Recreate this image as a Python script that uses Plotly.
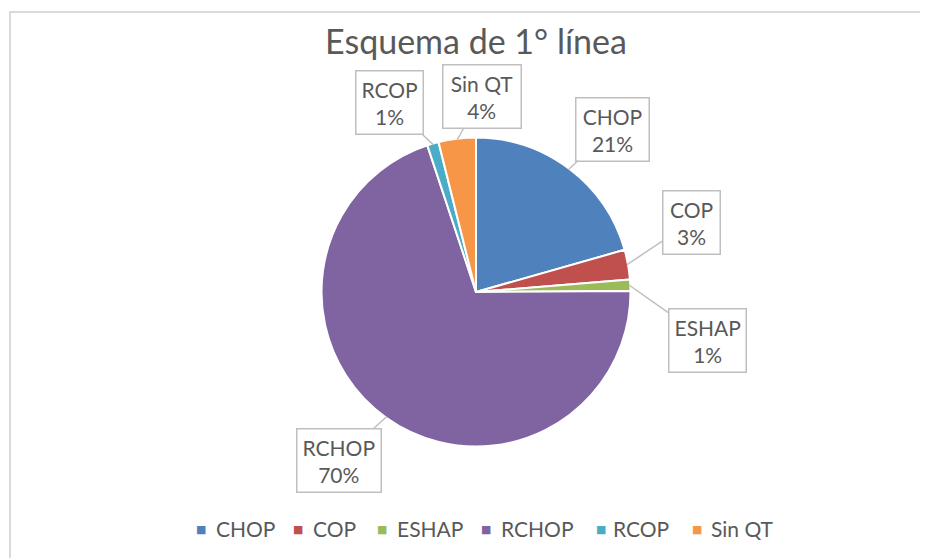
import math
import plotly.graph_objects as go

# ---- data ----
categories = ["CHOP", "COP", "ESHAP", "RCHOP", "RCOP", "Sin QT"]
values = [20.6, 3.1, 1.2, 70.0, 1.2, 3.9]
colors = ["#4F81BD", "#C0504D", "#9BBB59", "#8064A2", "#4BACC6", "#F79646"]
title_text = "Esquema de 1° línea"

# ---- layout (page pixels) ----
label_box_px = [(612, 129), (691, 222), (707, 340), (339, 460), (389, 103), (482, 96)]
label_box_w = [62, 46, None, None, None, 67]
legend_marker_px = [201, 298, 382, 486, 601, 697]
legend_text_px = [214, 311, 395, 499, 611, 709]
LEGEND_Y = 528

OFF = 8                      # browser body margin
W, H = 928 - OFF, 558 - OFF  # figure size
CX, CY, R = 476, 292, 154.5  # pie centre/radius in page pixels
FONT = "Lato"
TXT = "#595959"


def px2x(px):
    return (px - OFF) / W


def py2y(py):
    return 1 - (py - OFF) / H


fig = go.Figure()
fig.add_trace(go.Pie(
    labels=categories, values=values, sort=False, direction="clockwise", rotation=0,
    marker=dict(colors=colors, line=dict(color="white", width=2)),
    textinfo="none", hoverinfo="label+percent", showlegend=False,
    domain=dict(x=[px2x(CX - R), px2x(CX + R)], y=[py2y(CY + R), py2y(CY - R)]),
))

total = sum(values)
cum = 0.0
annotations = []
for cat, v, (bx, by), bw in zip(categories, values, label_box_px, label_box_w):
    mid = (cum + v / 2) / total * 2 * math.pi
    cum += v
    tx = CX + (R - 1) * math.sin(mid)
    ty = CY - (R - 1) * math.cos(mid)
    pct = round(v / total * 100)
    ann = dict(
        x=px2x(tx), y=py2y(ty), xref="paper", yref="paper",
        ax=bx - tx, ay=by - ty, axref="pixel", ayref="pixel",
        text=f"{cat}<br>{pct}%", showarrow=True, arrowhead=0, arrowwidth=1.5,
        arrowcolor="#BFBFBF", bordercolor="#BFBFBF", borderwidth=1.5, borderpad=5,
        bgcolor="white", font=dict(family=FONT, size=21, color=TXT), align="center",
    )
    if bw:
        ann["width"] = bw
    annotations.append(ann)

# custom legend
for cat, col, mx, tx in zip(categories, colors, legend_marker_px, legend_text_px):
    annotations.append(dict(x=px2x(mx), y=py2y(LEGEND_Y + 1), xref="paper", yref="paper",
                            text="■", showarrow=False, xanchor="center", yanchor="middle",
                            font=dict(family="DejaVu Sans", size=11, color=col)))
    annotations.append(dict(x=px2x(tx), y=py2y(LEGEND_Y), xref="paper", yref="paper",
                            text=cat, showarrow=False, xanchor="left", yanchor="middle",
                            font=dict(family=FONT, size=21, color=TXT)))

fig.update_layout(
    width=W, height=H, margin=dict(l=0, r=0, t=0, b=0),
    paper_bgcolor="white", plot_bgcolor="white", showlegend=False,
    title=dict(text=title_text, x=px2x(CX), xanchor="center", y=py2y(42), yanchor="middle",
               font=dict(family=FONT, size=34, color=TXT)),
    annotations=annotations,
    shapes=[dict(type="rect", xref="paper", yref="paper", x0=px2x(10), x1=1.05, y0=-0.05, y1=py2y(12),
                 line=dict(color="#D9D9D9", width=2), fillcolor="rgba(0,0,0,0)", layer="below")],
)

fig.write_html("out.html")
